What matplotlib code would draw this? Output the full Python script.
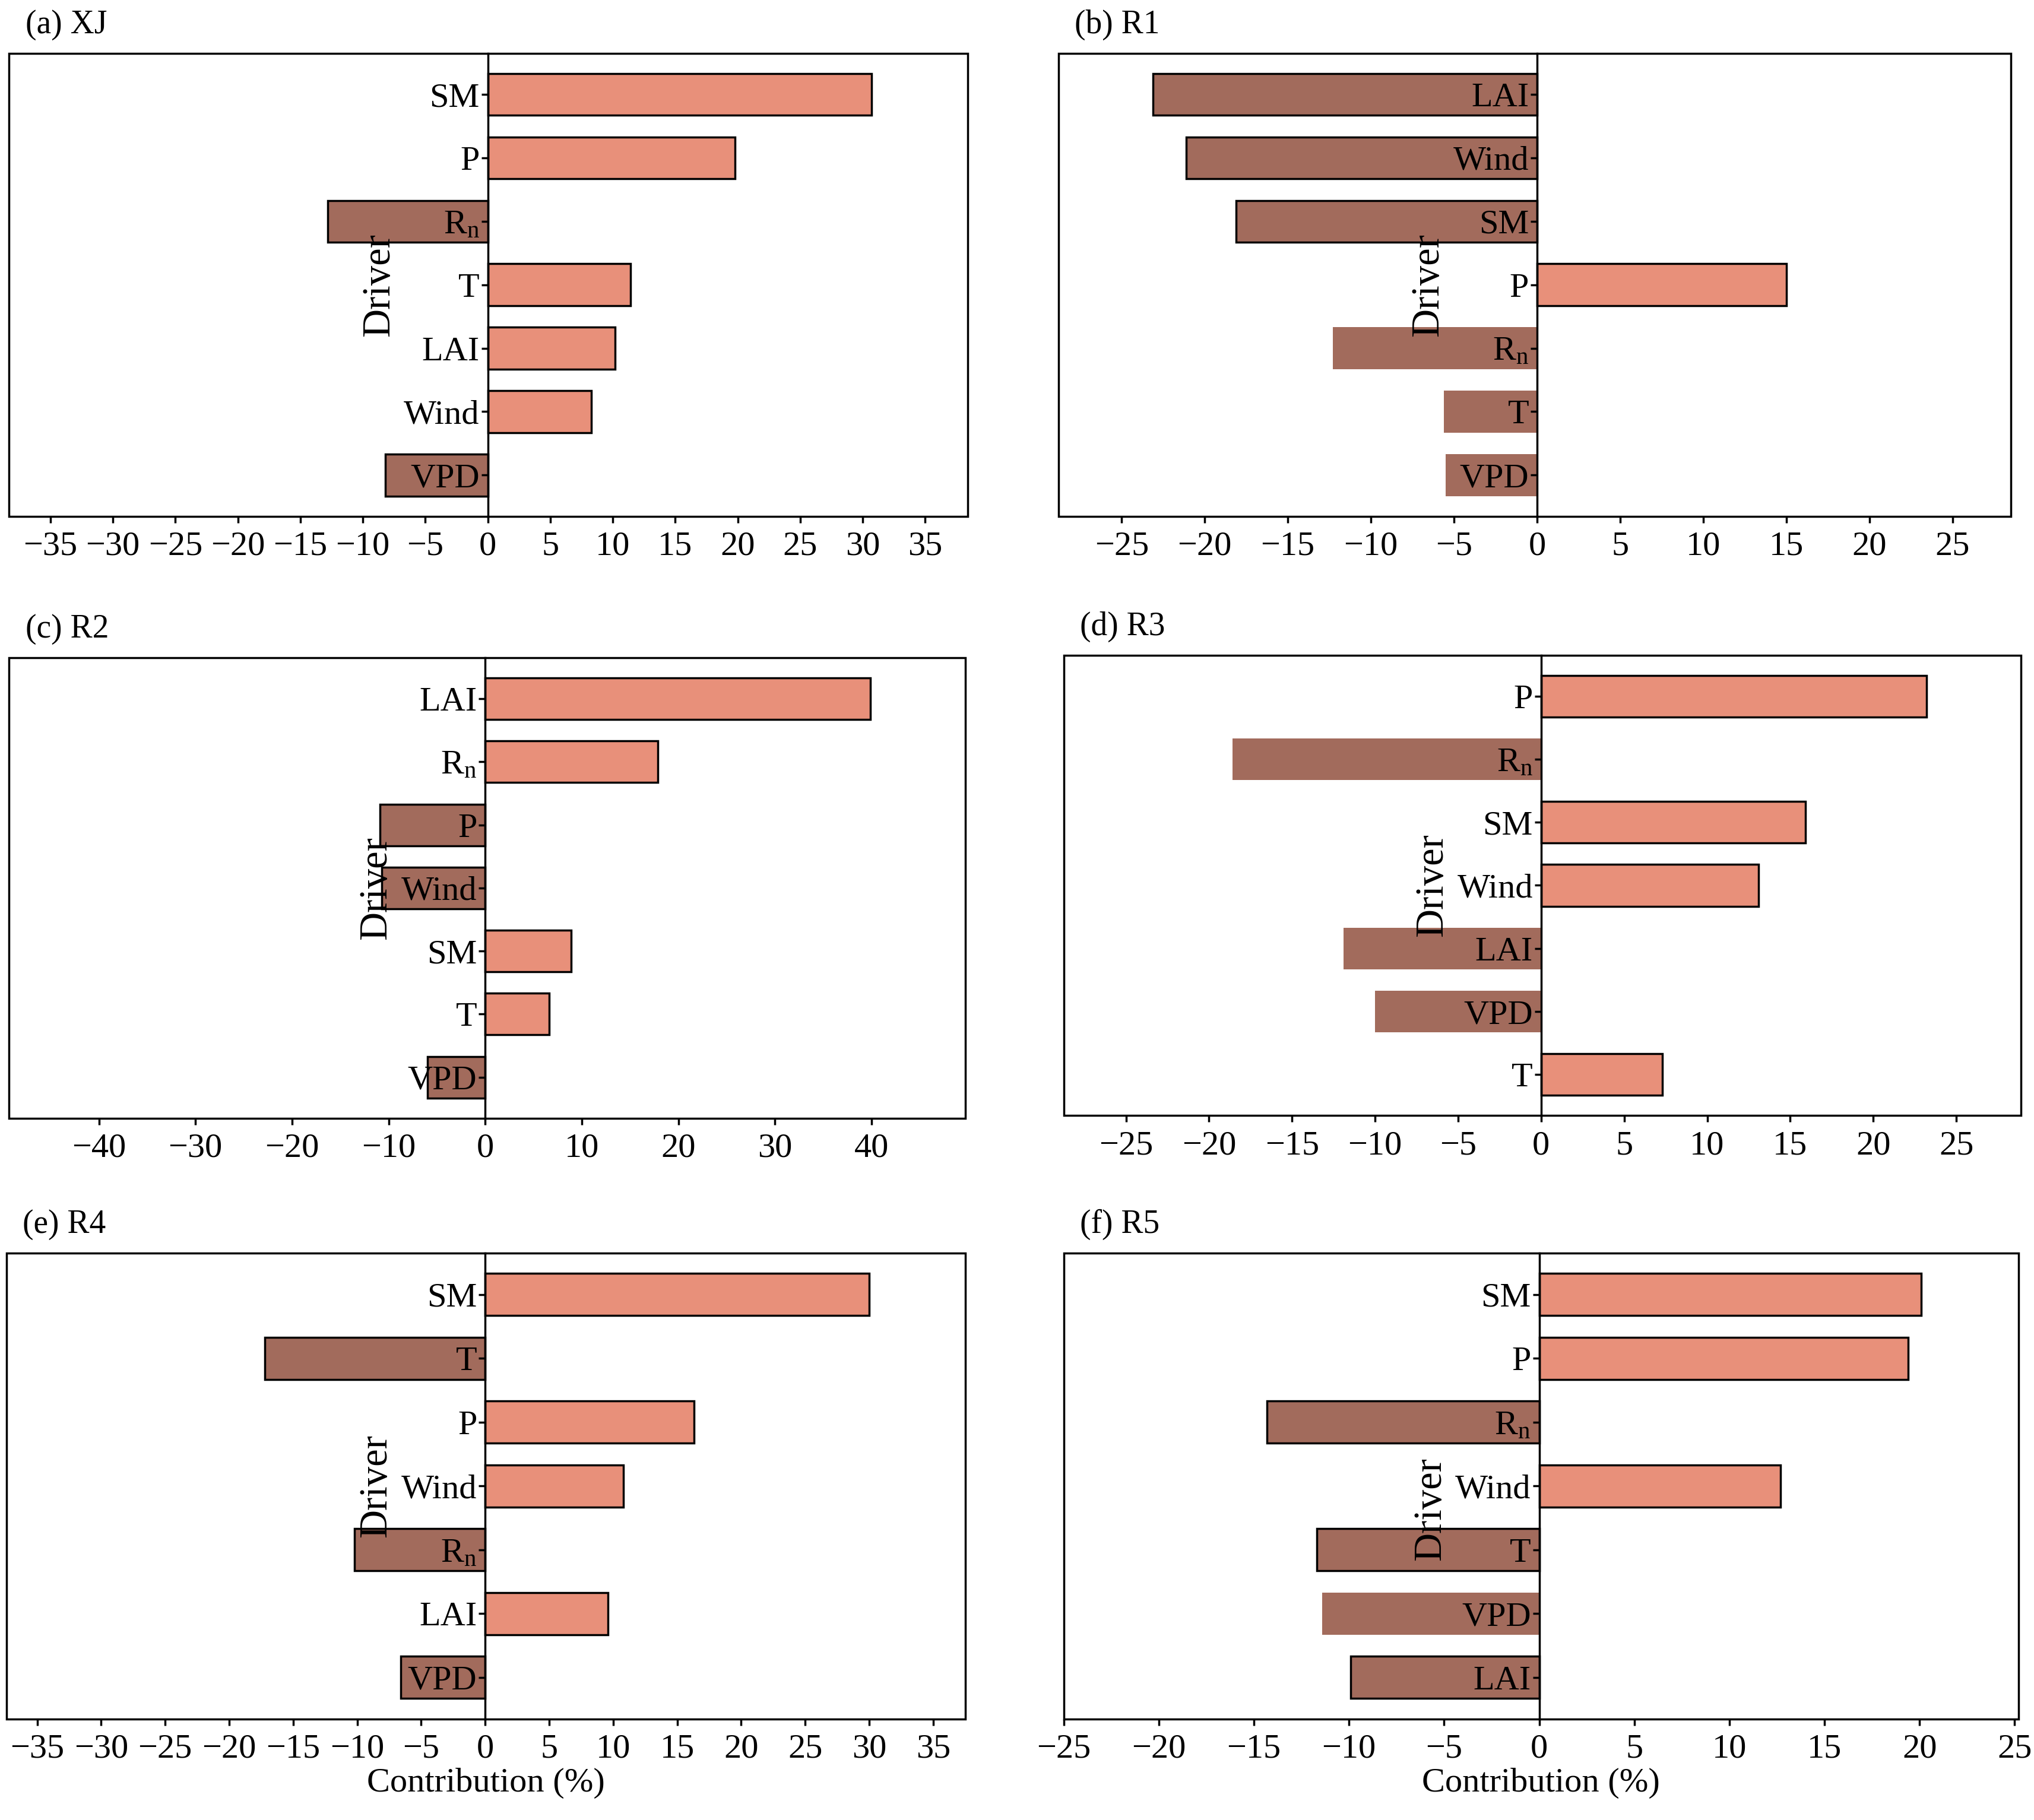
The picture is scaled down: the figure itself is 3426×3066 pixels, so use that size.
import matplotlib
matplotlib.use("Agg")
import matplotlib.pyplot as plt
from matplotlib.patches import Rectangle
from matplotlib.transforms import offset_copy

plt.rcParams['font.family'] = ['Liberation Serif', 'DejaVu Serif']
plt.rcParams['mathtext.fontset'] = 'custom'
plt.rcParams['mathtext.rm'] = 'Liberation Serif'
plt.rcParams['mathtext.it'] = 'Liberation Serif'

RN = r'R$_\mathrm{n}$'
titles = ['(a) XJ', '(b) R1', '(c) R2', '(d) R3', '(e) R4', '(f) R5']
drivers = [
    ['SM', 'P', RN, 'T', 'LAI', 'Wind', 'VPD'],
    ['LAI', 'Wind', 'SM', 'P', RN, 'T', 'VPD'],
    ['LAI', RN, 'P', 'Wind', 'SM', 'T', 'VPD'],
    ['P', RN, 'SM', 'Wind', 'LAI', 'VPD', 'T'],
    ['SM', 'T', 'P', 'Wind', RN, 'LAI', 'VPD'],
    ['SM', 'P', RN, 'Wind', 'T', 'VPD', 'LAI'],
]
values = [
    [30.7, 19.8, -12.8, 11.4, 10.2, 8.3, -8.2],
    [-23.1, -21.1, -18.1, 15.0, -12.3, -5.6, -5.5],
    [39.9, 17.9, -10.9, -10.7, 8.9, 6.6, -6.0],
    [23.2, -18.6, 15.9, 13.1, -11.9, -10.0, 7.3],
    [30.0, -17.2, 16.3, 10.8, -10.2, 9.6, -6.6],
    [20.1, 19.4, -14.3, 12.7, -11.7, -11.4, -9.9],
]
edged = [
    [1, 1, 1, 1, 1, 1, 1],
    [1, 1, 1, 1, 0, 0, 0],
    [1, 1, 1, 1, 1, 1, 1],
    [1, 0, 1, 1, 0, 0, 1],
    [1, 1, 1, 1, 1, 1, 1],
    [1, 1, 1, 1, 1, 0, 1],
]
xlims = [(-38.3, 38.4), (-28.8, 28.5), (-49.3, 49.7), (-28.75, 28.9), (-37.4, 37.5), (-24.5, 25.2)]
xticks = [range(-35, 36, 5), range(-25, 26, 5), range(-40, 41, 10), range(-25, 26, 5),
          range(-35, 36, 5), range(-25, 26, 5)]
driver_y = [0.5, 0.5, 0.5, 0.5, 0.5, 0.45]

W, H = 1568, 1403
boxes = [(7, 41, 746, 398), (816, 41, 1550, 398), (7, 507, 744, 862),
         (820, 505, 1558, 860), (5, 966, 744, 1325), (820, 966, 1556, 1325)]
POS, NEG = '#E8907A', '#A26B5C'

fig = plt.figure(figsize=(34.26, 30.66), dpi=100)
for i in range(6):
    x0, y0, x1, y1 = boxes[i]
    ax = fig.add_axes([x0 / W, 1 - y1 / H, (x1 - x0) / W, (y1 - y0) / H])
    vals = values[i]
    n = len(vals)
    ys = list(range(n - 1, -1, -1))
    for y, v, e in zip(ys, vals, edged[i]):
        ax.barh(y, v, height=0.66, color=POS if v > 0 else NEG,
                edgecolor='black' if e else 'none', linewidth=2.5)
    ax.set_ylim(-0.65, n - 1 + 0.65)
    ax.set_xlim(*xlims[i])
    ax.set_xticks(list(xticks[i]))
    ax.set_yticks(ys)
    ax.set_yticklabels(drivers[i])
    for s in ['top', 'right', 'bottom']:
        ax.spines[s].set_visible(False)
    ax.spines['left'].set_position(('data', 0))
    ax.spines['left'].set_linewidth(2.5)
    ax.add_patch(Rectangle((0, 0), 1, 1, transform=ax.transAxes, fill=False,
                           lw=2.5, ec='black', clip_on=False, zorder=5))
    ax.tick_params(axis='both', labelsize=42, width=2.5, length=8)
    ax.tick_params(axis='x', pad=10)
    ax.tick_params(axis='y', pad=2)
    ax.set_zorder(1)
    tr = offset_copy(ax.get_xaxis_transform(), fig=fig, x=-132, y=0, units='points')
    ax.text(0, driver_y[i], 'Driver', transform=tr, rotation=90, ha='center', va='center',
            fontsize=48)
    ax.text(x0 / W + 0.008, 1 - (y0 - 22) / H, titles[i], transform=fig.transFigure,
            fontsize=40, ha='left', va='center')
    if i >= 4:
        ax.set_xlabel('Contribution (%)', fontsize=42, labelpad=4)

fig.savefig('out.png', dpi=100)
